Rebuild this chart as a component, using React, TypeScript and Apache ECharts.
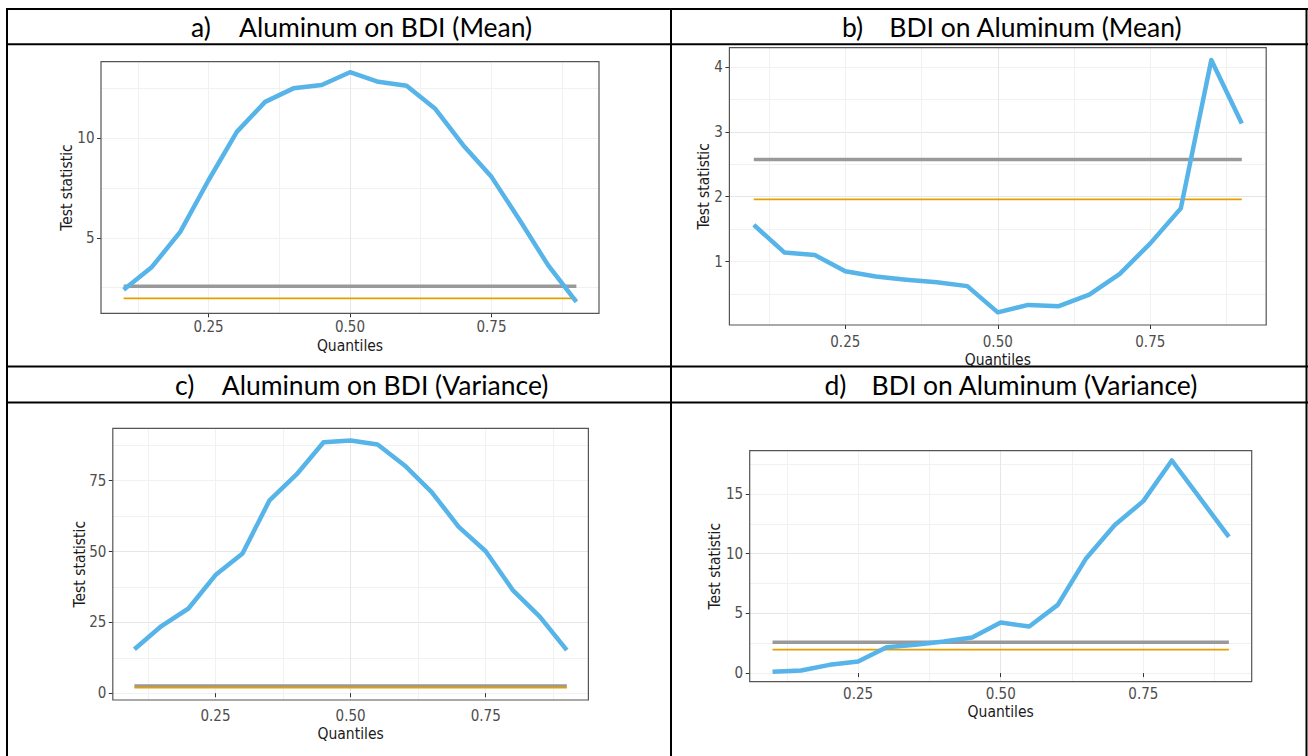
import React, { useEffect, useRef } from "react";
import * as echarts from "echarts";

// ---------------- data ----------------
const quantiles = [0.1, 0.15, 0.2, 0.25, 0.3, 0.35, 0.4, 0.45, 0.5, 0.55, 0.6, 0.65, 0.7, 0.75, 0.8, 0.85, 0.9];

const aluminumOnBdiMean = [2.4, 3.54, 5.3, 7.9, 10.33, 11.84, 12.52, 12.69, 13.33, 12.85, 12.65, 11.51, 9.66, 8.07, 5.89, 3.63, 1.78];
const bdiOnAluminumMean = [1.565, 1.14, 1.1, 0.85, 0.77, 0.72, 0.68, 0.62, 0.215, 0.33, 0.31, 0.49, 0.81, 1.28, 1.82, 4.11, 3.13];
const aluminumOnBdiVariance = [15.5, 23.7, 29.9, 41.7, 49.3, 68.1, 77.2, 88.6, 89.2, 87.8, 80.4, 71.0, 58.7, 50.1, 36.4, 27.0, 15.2];
const bdiOnAluminumVariance = [0.11, 0.22, 0.69, 0.97, 2.17, 2.37, 2.64, 2.98, 4.23, 3.9, 5.71, 9.62, 12.4, 14.4, 17.8, 14.6, 11.4];

const criticalValue1pct = 2.576;
const criticalValue5pct = 1.96;

const panelLetters = ["a)", "b)", "c)", "d)"];
const panelTitles = [
  "Aluminum on BDI (Mean)",
  "BDI on Aluminum (Mean)",
  "Aluminum on BDI (Variance)",
  "BDI on Aluminum (Variance)",
];

const xTicks = [0.25, 0.5, 0.75];
const xLimits = [0.06, 0.94];
const xStep = 0.25;

const yTicksA = [5, 10];
const yTicksB = [1, 2, 3, 4];
const yTicksC = [0, 25, 50, 75];
const yTicksD = [0, 5, 10, 15];

const yStepA = 5;
const yStepB = 1;
const yStepC = 25;
const yStepD = 5;

const yLimitsA = [1.21, 13.86];
const yLimitsB = [0.02, 4.3];
const yLimitsC = [-2.4, 93.5];
const yLimitsD = [-0.72, 18.62];

const xAxisName = "Quantiles";
const yAxisName = "Test statistic";

// ---------------- layout / style ----------------
const W = 1308;
const H = 756;

const panelData = [
  { values: aluminumOnBdiMean, yTicks: yTicksA, yStep: yStepA, yLimits: yLimitsA },
  { values: bdiOnAluminumMean, yTicks: yTicksB, yStep: yStepB, yLimits: yLimitsB },
  { values: aluminumOnBdiVariance, yTicks: yTicksC, yStep: yStepC, yLimits: yLimitsC },
  { values: bdiOnAluminumVariance, yTicks: yTicksD, yStep: yStepD, yLimits: yLimitsD },
];

const panelLayout = [
  { grid: { left: 101, top: 61.7, width: 498, height: 251.6 }, yNameGap: 26, xNameGap: 24.5, xLabelMargin: 6.5, yLabelMargin: 6.5,
    letter: { x: 191, y: 27 }, title: { x: 239, y: 27 } },
  { grid: { left: 729.4, top: 47.7, width: 536.8, height: 277.3 }, yNameGap: 17.5, xNameGap: 27, xLabelMargin: 9.5, yLabelMargin: 6.5,
    letter: { x: 842, y: 27 }, title: { x: 889.3, y: 27 } },
  { grid: { left: 112.8, top: 428.3, width: 475.6, height: 271.7 }, yNameGap: 25, xNameGap: 26, xLabelMargin: 8, yLabelMargin: 6.5,
    letter: { x: 175, y: 385 }, title: { x: 221.8, y: 385 } },
  { grid: { left: 749.7, top: 450.7, width: 502, height: 231 }, yNameGap: 26.5, xNameGap: 22.5, xLabelMargin: 5, yLabelMargin: 6.5,
    letter: { x: 824.5, y: 385 }, title: { x: 871.6, y: 385 } },
];

const tableLines = {
  hLines: [9, 44.3, 366.5, 402.5],
  vLines: [7, 671, 1306.5],
  top: 8,
  left: 6,
};

const BLUE = "#56B4E9";
const GREY = "#999999";
const ORANGE = "#E69F00";
const axisFont = "'Liberation Sans Narrow', 'Arial Narrow', 'DejaVu Sans Condensed', 'Liberation Sans', sans-serif";
const titleFont = "Lato, 'Open Sans', sans-serif";
const titleSize = 26.5;
const tickFontSize = 15;
const axisNameFontSize = 15.5;

function buildOption() {
  const grid: any[] = [];
  const xAxis: any[] = [];
  const yAxis: any[] = [];
  const series: any[] = [];
  const graphic: any[] = [];

  panelData.forEach((pd, i) => {
    const L = panelLayout[i];
    grid.push({ ...L.grid, show: true, z: 10, borderColor: "#555555", borderWidth: 1.2, backgroundColor: "transparent" });

    // minor grid lines (x)
    xAxis.push({
      gridIndex: i, type: "value", position: "bottom", min: xLimits[0], max: xLimits[1],
      minInterval: xStep / 2, maxInterval: xStep / 2,
      axisLine: { show: false }, axisTick: { show: false }, axisLabel: { show: false },
      splitLine: { show: true, showMinLine: false, showMaxLine: false, lineStyle: { color: "#f1f1f1", width: 1 } },
    });
    // major x axis
    xAxis.push({
      gridIndex: i, type: "value", position: "bottom", min: xLimits[0], max: xLimits[1],
      minInterval: xStep, maxInterval: xStep,
      axisLine: { show: false },
      axisTick: { show: true, length: 4, customValues: xTicks, lineStyle: { color: "#333333", width: 1 } },
      axisLabel: {
        customValues: xTicks, margin: L.xLabelMargin, color: "#4d4d4d", fontSize: tickFontSize, fontFamily: axisFont,
        formatter: (v: number) => v.toFixed(2),
      },
      splitLine: { show: true, showMinLine: false, showMaxLine: false, lineStyle: { color: "#e6e6e6", width: 1 } },
      name: xAxisName, nameLocation: "middle", nameGap: L.xNameGap, nameMoveOverlap: false,
      nameTextStyle: { color: "#1a1a1a", fontSize: axisNameFontSize, fontFamily: axisFont },
    });

    // minor grid lines (y)
    yAxis.push({
      gridIndex: i, type: "value", position: "left", min: pd.yLimits[0], max: pd.yLimits[1],
      minInterval: pd.yStep / 2, maxInterval: pd.yStep / 2,
      axisLine: { show: false }, axisTick: { show: false }, axisLabel: { show: false },
      splitLine: { show: true, showMinLine: false, showMaxLine: false, lineStyle: { color: "#f1f1f1", width: 1 } },
    });
    // major y axis
    yAxis.push({
      gridIndex: i, type: "value", position: "left", min: pd.yLimits[0], max: pd.yLimits[1],
      minInterval: pd.yStep, maxInterval: pd.yStep,
      axisLine: { show: false },
      axisTick: { show: true, length: 4, customValues: pd.yTicks, lineStyle: { color: "#333333", width: 1 } },
      axisLabel: {
        customValues: pd.yTicks, margin: L.yLabelMargin, color: "#4d4d4d", fontSize: tickFontSize, fontFamily: axisFont,
        formatter: (v: number) => String(v),
      },
      splitLine: { show: true, showMinLine: false, showMaxLine: false, lineStyle: { color: "#e6e6e6", width: 1 } },
      name: yAxisName, nameLocation: "middle", nameRotate: 90, nameGap: L.yNameGap, nameMoveOverlap: false,
      nameTextStyle: { color: "#1a1a1a", fontSize: axisNameFontSize, fontFamily: axisFont },
    });

    const xi = 2 * i + 1;
    const yi = 2 * i + 1;
    const first = quantiles[0];
    const last = quantiles[quantiles.length - 1];
    series.push({
      type: "line", xAxisIndex: xi, yAxisIndex: yi, symbol: "none", silent: true, z: 2,
      data: [[first, criticalValue1pct], [last, criticalValue1pct]],
      lineStyle: { color: GREY, width: 3.5, cap: "butt" },
    });
    series.push({
      type: "line", xAxisIndex: xi, yAxisIndex: yi, symbol: "none", silent: true, z: 3,
      data: [[first, criticalValue5pct], [last, criticalValue5pct]],
      lineStyle: { color: ORANGE, width: 1.8, cap: "butt" },
    });
    series.push({
      type: "line", xAxisIndex: xi, yAxisIndex: yi, symbol: "none", silent: true, z: 4,
      data: quantiles.map((q, k) => [q, pd.values[k]]),
      lineStyle: { color: BLUE, width: 4.5, join: "round", cap: "butt" },
    });

    graphic.push({
      type: "text", x: L.letter.x, y: L.letter.y, z: 100,
      style: { text: panelLetters[i], fill: "#000", font: `${titleSize}px ${titleFont}`, align: "left", verticalAlign: "middle", textAlign: "left", textVerticalAlign: "middle" },
    });
    graphic.push({
      type: "text", x: L.title.x, y: L.title.y, z: 100,
      style: { text: panelTitles[i], fill: "#000", font: `${titleSize}px ${titleFont}`, align: "left", verticalAlign: "middle", textAlign: "left", textVerticalAlign: "middle" },
    });
  });

  tableLines.hLines.forEach((y) => {
    graphic.push({ type: "line", z: 100, shape: { x1: tableLines.left, y1: y, x2: W, y2: y }, style: { stroke: "#000", lineWidth: 2 } });
  });
  tableLines.vLines.forEach((x) => {
    graphic.push({ type: "line", z: 100, shape: { x1: x, y1: tableLines.top, x2: x, y2: H }, style: { stroke: "#000", lineWidth: 2 } });
  });

  return {
    animation: false,
    backgroundColor: "#ffffff",
    grid,
    xAxis,
    yAxis,
    series,
    graphic,
  };
}

export default function App() {
  const ref = useRef<HTMLDivElement>(null);
  useEffect(() => {
    if (!ref.current) return;
    const chart = echarts.init(ref.current, undefined, { renderer: "svg", width: W, height: H });
    chart.setOption(buildOption() as any);
    return () => chart.dispose();
  }, []);
  return <div ref={ref} style={{ position: "fixed", left: 0, top: 0, width: W, height: H, background: "#fff" }} />;
}
